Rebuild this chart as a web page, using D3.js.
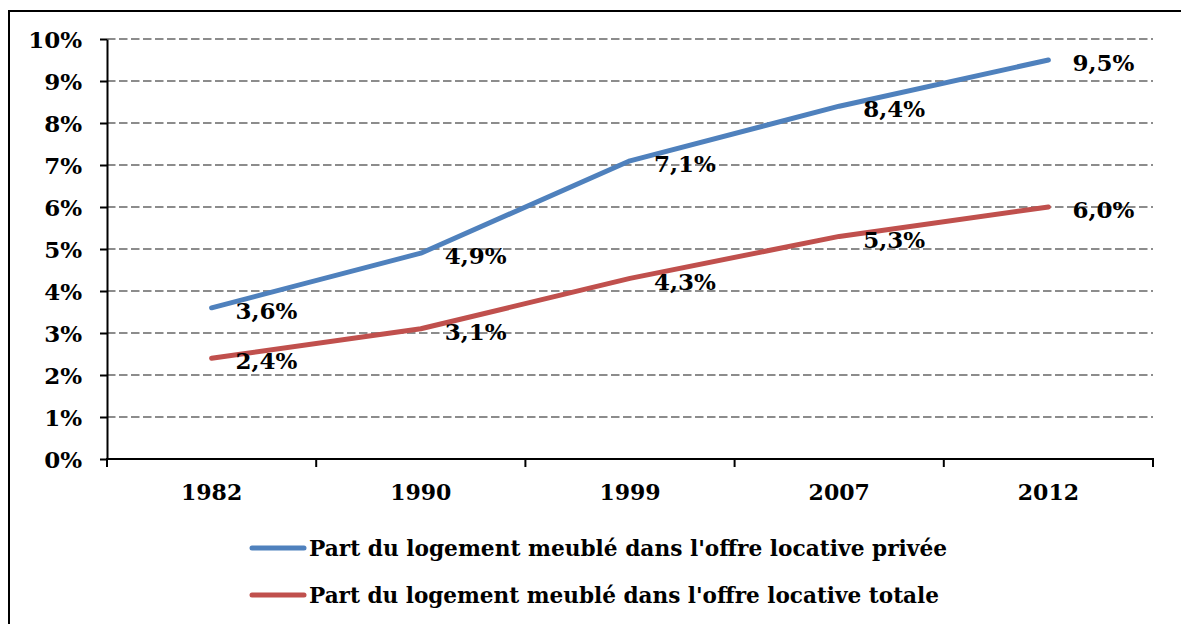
<!DOCTYPE html>
<html><head><meta charset="utf-8">
<script src="https://cdn.jsdelivr.net/npm/d3@7"></script>
<style>body{margin:0;background:#fff}svg{display:block}</style>
</head><body>
<svg id="c" width="1181" height="624"></svg>
<script>
const years = ["1982","1990","1999","2007","2012"];
const privee = [3.6, 4.9, 7.1, 8.4, 9.5];
const totale = [2.4, 3.1, 4.3, 5.3, 6.0];
const seriesNames = ["Part du logement meublé dans l'offre locative privée","Part du logement meublé dans l'offre locative totale"];
const seriesColors = ["#4f81bd","#c0504d"];
const yTicks = [0,1,2,3,4,5,6,7,8,9,10];

const svg = d3.select("#c");
const font = "'DejaVu Serif', serif";
svg.append("rect").attr("x",9).attr("y",11).attr("width",1200).attr("height",700)
  .attr("fill","#fff").attr("stroke","#000").attr("stroke-width",2);

const x = d3.scaleBand().domain(years).range([107,1153]).padding(0);
const y = d3.scaleLinear().domain([0,10]).range([459,39]);

// grid
svg.append("g").selectAll("line").data(yTicks.filter(d=>d>0)).join("line")
  .attr("x1",107).attr("x2",1153).attr("y1",d=>y(d)).attr("y2",d=>y(d))
  .attr("stroke","#8c8c8c").attr("stroke-width",2).attr("stroke-dasharray","8.5,3.5");

// y axis
const ya = svg.append("g").attr("transform","translate(107,0)")
  .call(d3.axisLeft(y).tickValues(yTicks).tickSize(7).tickSizeOuter(0).tickFormat(d=>d+"%"));
ya.select(".domain").attr("stroke","#000").attr("stroke-width",2);
ya.selectAll(".tick line").attr("stroke","#000").attr("stroke-width",2);
ya.selectAll("text").attr("x",-25).attr("dy","0.36em").attr("font-family",font).attr("font-weight","bold").attr("font-size",23).attr("fill","#000");

// x axis
const xa = svg.append("g").attr("transform","translate(0,459)")
  .call(d3.axisBottom(x).tickSize(0).tickSizeOuter(0));
xa.select(".domain").remove();
xa.selectAll("text").attr("y",33).attr("dy","0.36em").attr("font-family",font).attr("font-weight","bold").attr("font-size",22).attr("fill","#000");
svg.append("line").attr("x1",106).attr("x2",1154).attr("y1",y(0)).attr("y2",y(0)).attr("stroke","#000").attr("stroke-width",2);
const bounds = years.map(d=>x(d)).concat([x.range()[1]]);
svg.append("g").selectAll("line").data(bounds).join("line")
  .attr("x1",d=>d).attr("x2",d=>d).attr("y1",y(0)).attr("y2",y(0)+8)
  .attr("stroke","#000").attr("stroke-width",2);

// lines
const cx = d => x(d)+x.bandwidth()/2;
[privee,totale].forEach((vals,i)=>{
  const pts = years.map((yr,j)=>[cx(yr), y(vals[j])]);
  svg.append("path").attr("d",d3.line()(pts)).attr("fill","none")
    .attr("stroke",seriesColors[i]).attr("stroke-width",5)
    .attr("stroke-linejoin","round").attr("stroke-linecap","round");
});
// labels
[privee,totale].forEach((vals,i)=>{
  svg.append("g").selectAll("text").data(years).join("text")
    .attr("x",d=>cx(d)+24).attr("y",(d,j)=>y(vals[j])+3).attr("dy","0.36em")
    .attr("font-family",font).attr("font-weight","bold").attr("font-size",23).attr("fill","#000")
    .text((d,j)=>vals[j].toFixed(1).replace(".",",")+"%");
});

// legend
const legY = [548,595];
const legW = [638,630];
seriesNames.forEach((n,i)=>{
  svg.append("line").attr("x1",252).attr("x2",304).attr("y1",legY[i]).attr("y2",legY[i])
    .attr("stroke",seriesColors[i]).attr("stroke-width",5).attr("stroke-linecap","round");
  svg.append("text").attr("x",309).attr("y",legY[i]).attr("dy","0.36em")
    .attr("font-family",font).attr("font-weight","bold").attr("font-size",22).attr("fill","#000")
    .attr("textLength",legW[i]).attr("lengthAdjust","spacingAndGlyphs").text(n);
});
</script>
</body></html>
